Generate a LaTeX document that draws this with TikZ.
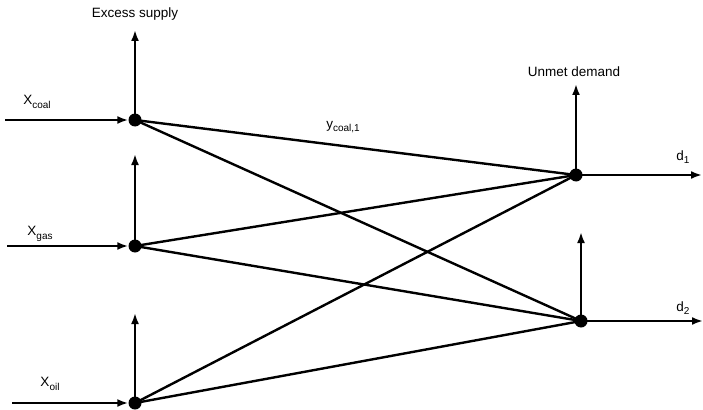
\documentclass[tikz,border=0pt]{standalone}
\usepackage{fontspec}
\setmainfont{Liberation Sans}
\usetikzlibrary{arrows.meta}
\newcommand{\lowsub}[1]{\raisebox{-3.5pt}{\fontsize{10}{10}\selectfont #1}}

\begin{document}
\begin{tikzpicture}[x=1pt, y=-1pt,
	flow/.style={line width=2.4pt},
	flowarrow/.style={line width=2.4pt, -{Latex[length=11pt, width=8pt]}},
	dot/.style={circle, fill=black, inner sep=0pt, minimum size=13pt},
	lbl/.style={font=\fontsize{13.5}{15}\selectfont, inner sep=1pt}]
	\useasboundingbox (0,0) rectangle (703,409);

	% Supply nodes
	\node[dot] (coal) at (135,120) {};
	\node[dot] (gas) at (135,246) {};
	\node[dot] (oil) at (135,403) {};
	% Demand nodes
	\node[dot] (dem1) at (576,175) {};
	\node[dot] (dem2) at (581,321) {};

	% Free ends
	\coordinate (incoal) at (5,120);
	\coordinate (ingas) at (7,246);
	\coordinate (inoil) at (12,403);
	\coordinate (excoal) at (135,30);
	\coordinate (exgas) at (135,154);
	\coordinate (exoil) at (135,313);
	\coordinate (un1) at (576,84);
	\coordinate (un2) at (581,232);
	\coordinate (outd1) at (702,175);
	\coordinate (outd2) at (703,321);

	% Inputs
	\draw[flowarrow] (incoal) -- (coal);
	\draw[flowarrow] (ingas) -- (gas);
	\draw[flowarrow] (inoil) -- (oil);

	% Excess supply / unmet demand
	\draw[flowarrow] (coal.center) -- (excoal);
	\draw[flowarrow] (gas.center) -- (exgas);
	\draw[flowarrow] (oil.center) -- (exoil);
	\draw[flowarrow] (dem1.center) -- (un1);
	\draw[flowarrow] (dem2.center) -- (un2);

	% Demands
	\draw[flowarrow] (dem1.center) -- (outd1);
	\draw[flowarrow] (dem2.center) -- (outd2);

	% Shipments
	\foreach \s in {coal,gas,oil}{
		\foreach \d in {dem1,dem2}{
			\draw[flow] (\s.center) -- (\d.center);
		}
	}

	% Labels
	\node[lbl] (lexcess) at (135,14) {Excess supply};
	\node[lbl] (lunmet) at (574,72) {Unmet demand};
	\node[lbl] (lcoal) at (37,102) {X\lowsub{coal}};
	\node[lbl] (lgas) at (40,234) {X\lowsub{gas}};
	\node[lbl] (loil) at (50,384) {X\lowsub{oil}};
	\node[lbl] (ld1) at (683,157) {d\lowsub{1}};
	\node[lbl] (ld2) at (683,308) {d\lowsub{2}};
	\node[lbl] (lship) at (343,127) {y\lowsub{coal,1}};
\end{tikzpicture}
\end{document}
